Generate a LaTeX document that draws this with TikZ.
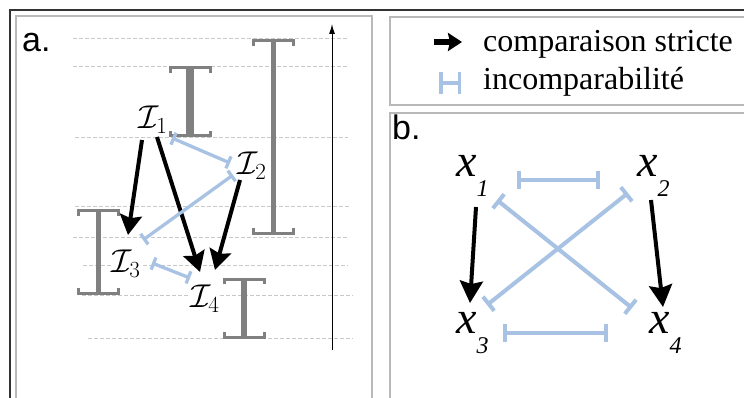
\documentclass[tikz,border=0pt]{standalone}
\usepackage{fix-cm}
\usepackage{fontspec}
\setmainfont{Liberation Serif}
\setsansfont{Liberation Sans}
\newfontfamily\timesfont{Liberation Serif}
\newfontfamily\arialfont{Liberation Sans}
\usetikzlibrary{arrows.meta}
\definecolor{incomp}{RGB}{168,194,228}
\definecolor{bargray}{RGB}{128,128,128}
\definecolor{framegray}{RGB}{185,185,185}
\definecolor{gridgray}{RGB}{200,200,200}
\newcommand\intervalbar[4]{%
  \draw[bargray, line width=#4, line cap=butt] (#1,#2) -- (#1,#3);
  \draw[bargray, line width=3pt, line cap=butt, line join=miter]
    (#1-20,#2+5) -- (#1-20,#2) -- (#1+20,#2) -- (#1+20,#2+5);
  \draw[bargray, line width=3pt, line cap=butt, line join=miter]
    (#1-20,#3-5) -- (#1-20,#3) -- (#1+20,#3) -- (#1+20,#3-5);
}
\tikzset{
  strictA/.style={line width=4pt, -{Stealth[length=20pt,width=22pt,inset=3pt]}},
  strictB/.style={line width=4pt, -{Stealth[length=22pt,width=23pt,inset=3pt]}},
  incompA/.style={draw=incomp, line width=3.3pt, {Bar[width=13pt]}-{Bar[width=13pt]}},
  incompB/.style={draw=incomp, line width=4pt, {Bar[width=18pt]}-{Bar[width=18pt]}},
  gridline/.style={draw=gridgray, line width=1pt, dash pattern=on 4pt off 2pt},
  ilabel/.style={fill=white, inner sep=0.5pt, font=\fontsize{33}{35}\selectfont},
  xlabel/.style={anchor=base west, inner sep=0pt, font=\timesfont\fontsize{46}{48}\selectfont\itshape},
  panelframe/.style={draw=framegray, line width=1.3pt},
  legendtext/.style={anchor=base west, inner sep=0pt, font=\timesfont\fontsize{32}{34}\selectfont},
  paneltitle/.style={anchor=base west, inner sep=0pt, font=\arialfont\fontsize{34}{36}\selectfont}
}
\newcommand\xsub[1]{\raisebox{-20pt}{\fontsize{24}{26}\selectfont #1}}
\begin{document}
\begin{tikzpicture}[x=1pt,y=-1pt]
\useasboundingbox (0,0) rectangle (744,398);
\clip (0,0) rectangle (744,398);
\fill[white] (0,0) rectangle (744,398);
% outer frame
\draw[black!80, line width=1.6pt] (10,420) -- (10,10) -- (760,10);
% panels
\draw[panelframe] (16,420) -- (16,16) -- (372,16) -- (372,420);
\draw[panelframe] (760,105) -- (390,105) -- (390,17) -- (760,17);
\draw[panelframe] (760,113) -- (390,113) -- (390,420);
% panel a
\node[paneltitle] (ta) at (22,52) {a.};
\draw[gridline] (73,39) -- (348,39);
\draw[gridline] (73,67) -- (348,67);
\draw[gridline] (75,138) -- (348,138);
\draw[gridline] (75,207) -- (351,207);
\draw[gridline] (73,237) -- (348,237);
\draw[gridline] (83,265) -- (348,265);
\draw[gridline] (82,295) -- (353,295);
\draw[gridline] (88,338) -- (353,338);
\coordinate (axb) at (332,350);
\coordinate (axt) at (332,24);
\draw[line width=1pt, -{Latex[length=10pt,width=6pt]}] (axb) -- (axt);
\node[ilabel] (I1) at (153,120) {$\mathcal{I}_1$};
\node[ilabel] (I2) at (252,166) {$\mathcal{I}_2$};
\node[ilabel] (I3) at (126,264) {$\mathcal{I}_3$};
\node[ilabel] (I4) at (205,299) {$\mathcal{I}_4$};
\intervalbar{190}{68}{136}{8pt}
\intervalbar{273}{41}{233}{5pt}
\intervalbar{98}{211}{293}{5pt}
\intervalbar{244}{279}{337}{6pt}
\draw[strictA] ([shift={(-11,20)}]I1.center) -- ([shift={(2,-29)}]I3.center);
\draw[strictA] ([shift={(4,17)}]I1.center) -- ([shift={(-5,-27)}]I4.center);
\draw[strictA] ([shift={(-12,14)}]I2.center) -- ([shift={(10,-29)}]I4.center);
\draw[incompA] ([shift={(19,18)}]I1.center) -- ([shift={(-22,-3)}]I2.center);
\draw[incompA] ([shift={(-19,9)}]I2.center) -- ([shift={(17,-24)}]I3.center);
\draw[incompA] ([shift={(26,-1)}]I3.center) -- ([shift={(-15,-21)}]I4.center);
% legend
\coordinate (la1) at (434,42);
\coordinate (la2) at (462,42);
\draw[line width=5.5pt, -{Stealth[length=14pt,width=18pt,inset=2pt]}] (la1) -- (la2);
\coordinate (lb1) at (439,83);
\coordinate (lb2) at (461,83);
\draw[draw=incomp, line width=3.5pt, {Bar[width=22pt]}-{Bar[width=22pt]}] (lb1) -- (lb2);
\node[legendtext] (t1) at (483,52) {comparaison stricte};
\node[legendtext] (t2) at (483,90) {incomparabilité};
% panel b
\node[paneltitle] (tb) at (392,140) {b.};
\node[xlabel] (x1) at (456,177) {x\xsub{1}};
\node[xlabel] (x2) at (637,177) {x\xsub{2}};
\node[xlabel] (x3) at (456,333) {x\xsub{3}};
\node[xlabel] (x4) at (649,333) {x\xsub{4}};
\draw[incompB] ([shift={(61,3)}]x1.base west) -- ([shift={(-37,3)}]x2.base west);
\draw[incompB] ([shift={(47,0)}]x3.base west) -- ([shift={(-41,0)}]x4.base west);
\draw[incompB] ([shift={(41,23)}]x1.base west) -- ([shift={(-17,-25)}]x4.base west);
\draw[incompB] ([shift={(-9,16)}]x2.base west) -- ([shift={(31,-28)}]x3.base west);
\draw[strictB] ([shift={(20,30)}]x1.base west) -- ([shift={(14,-30)}]x3.base west);
\draw[strictB] ([shift={(14,23)}]x2.base west) -- ([shift={(14,-26)}]x4.base west);
\end{tikzpicture}
\end{document}
